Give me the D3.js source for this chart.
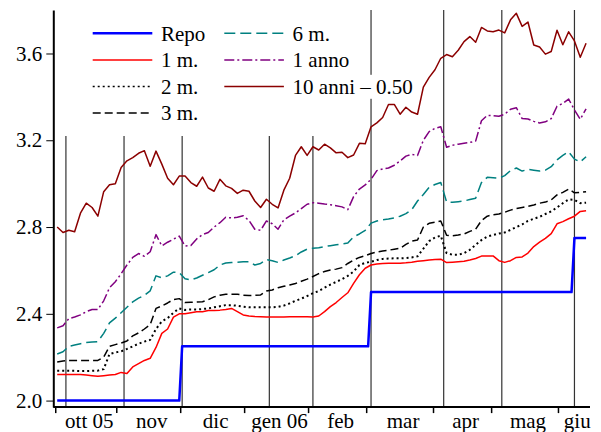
<!DOCTYPE html>
<html>
<head>
<meta charset="utf-8">
<script src="https://cdn.jsdelivr.net/npm/d3@7"></script>
<style>
  body { margin: 0; background: #fff; }
  svg text { font-family: "Liberation Serif", "Times New Roman", serif; font-size: 21px; fill: #000; }
</style>
</head>
<body>
<div id="chart"></div>
<script>
// business days 3 Oct 2005 - 14 Jun 2006, series read every 2nd business day
const firstDay = "2005-10-03";
const lastDay = "2006-06-14";
const monthLabels = ["ott 05", "nov", "dic", "gen 06", "feb", "mar", "apr", "mag", "giu"];
const meetingDates = ["2005-10-06", "2005-11-03", "2005-12-01", "2006-01-12", "2006-02-02",
  "2006-03-02", "2006-04-06", "2006-05-04", "2006-06-08"];
const yTicks = [2.0, 2.4, 2.8, 3.2, 3.6];

const repoDates = ["2005-10-03", "2005-11-30", "2005-12-01", "2006-03-01", "2006-03-02",
  "2006-06-07", "2006-06-08", "2006-06-14"];
const repoValues = [2.00, 2.00, 2.25, 2.25, 2.50, 2.50, 2.75, 2.75];

const oneMonth = [2.12,2.12,2.12,2.12,2.12,2.118,2.115,2.112,2.115,2.118,
  2.12,2.13,2.125,2.155,2.17,2.185,2.195,2.245,2.31,2.33,
  2.385,2.40,2.40,2.405,2.41,2.41,2.415,2.415,2.417,2.42,
  2.425,2.41,2.395,2.39,2.388,2.387,2.385,2.385,2.385,2.385,
  2.386,2.386,2.387,2.387,2.385,2.39,2.41,2.433,2.452,2.475,
  2.497,2.54,2.58,2.61,2.625,2.63,2.632,2.633,2.633,2.633,
  2.635,2.638,2.642,2.645,2.648,2.65,2.652,2.636,2.638,2.64,
  2.642,2.648,2.655,2.666,2.667,2.667,2.645,2.637,2.645,2.66,
  2.662,2.68,2.71,2.73,2.748,2.77,2.815,2.825,2.838,2.85,
  2.872,2.875];
const twoMonths = [2.137,2.137,2.137,2.137,2.136,2.136,2.137,2.138,2.145,2.215,
  2.222,2.227,2.238,2.25,2.262,2.272,2.28,2.33,2.365,2.38,
  2.405,2.425,2.418,2.42,2.42,2.422,2.425,2.43,2.435,2.44,
  2.44,2.437,2.433,2.43,2.43,2.43,2.43,2.43,2.432,2.438,
  2.448,2.46,2.47,2.482,2.495,2.505,2.52,2.535,2.547,2.56,
  2.575,2.595,2.625,2.635,2.64,2.648,2.653,2.655,2.656,2.656,
  2.657,2.66,2.665,2.70,2.735,2.752,2.76,2.68,2.672,2.672,
  2.68,2.695,2.718,2.74,2.756,2.763,2.77,2.775,2.787,2.80,
  2.812,2.828,2.838,2.847,2.86,2.872,2.89,2.91,2.927,2.925,
  2.91,2.912];
const threeMonths = [2.178,2.183,2.185,2.185,2.185,2.185,2.185,2.185,2.20,2.25,
  2.258,2.265,2.275,2.298,2.312,2.33,2.35,2.425,2.436,2.45,
  2.466,2.47,2.452,2.453,2.454,2.456,2.465,2.478,2.486,2.49,
  2.49,2.49,2.486,2.484,2.485,2.487,2.505,2.51,2.52,2.527,
  2.533,2.54,2.55,2.56,2.572,2.585,2.595,2.602,2.606,2.613,
  2.632,2.648,2.66,2.668,2.678,2.685,2.69,2.693,2.698,2.702,
  2.72,2.735,2.74,2.80,2.817,2.822,2.828,2.762,2.76,2.763,
  2.768,2.78,2.79,2.83,2.85,2.857,2.86,2.868,2.878,2.885,
  2.89,2.895,2.902,2.91,2.915,2.925,2.948,2.96,2.975,2.958,
  2.96,2.963];
const sixMonths = [2.215,2.225,2.25,2.256,2.262,2.268,2.27,2.272,2.31,2.358,
  2.38,2.405,2.43,2.455,2.472,2.485,2.506,2.575,2.566,2.575,
  2.592,2.59,2.562,2.556,2.565,2.578,2.59,2.603,2.625,2.634,
  2.636,2.638,2.64,2.64,2.625,2.632,2.65,2.645,2.637,2.648,
  2.657,2.668,2.685,2.698,2.702,2.705,2.71,2.714,2.718,2.722,
  2.726,2.755,2.768,2.785,2.818,2.828,2.833,2.837,2.842,2.85,
  2.862,2.88,2.92,2.95,2.983,2.996,3.005,2.916,2.914,2.917,
  2.92,2.927,2.933,3.005,3.029,3.027,3.025,3.037,3.06,3.072,
  3.058,3.066,3.062,3.058,3.062,3.078,3.11,3.13,3.147,3.113,
  3.10,3.124];
const oneYear = [2.335,2.345,2.378,2.385,2.395,2.41,2.42,2.42,2.46,2.52,
  2.548,2.585,2.625,2.66,2.678,2.665,2.686,2.765,2.713,2.73,
  2.744,2.758,2.712,2.715,2.745,2.765,2.775,2.80,2.82,2.845,
  2.842,2.845,2.852,2.83,2.79,2.785,2.828,2.815,2.79,2.833,
  2.85,2.865,2.885,2.905,2.912,2.91,2.906,2.903,2.898,2.893,
  2.88,2.94,2.975,2.994,3.02,3.06,3.068,3.072,3.085,3.105,
  3.127,3.135,3.13,3.20,3.24,3.255,3.262,3.168,3.177,3.182,
  3.186,3.19,3.196,3.29,3.315,3.313,3.311,3.32,3.343,3.35,
  3.30,3.298,3.287,3.28,3.285,3.30,3.357,3.37,3.39,3.34,
  3.297,3.345];
const tenYearLess050 = [2.80,2.775,2.785,2.778,2.864,2.91,2.89,2.85,2.963,2.995,
  3.0,3.075,3.105,3.12,3.14,3.152,3.08,3.15,3.09,3.025,
  2.995,3.035,3.035,3.005,2.988,3.03,2.98,2.965,3.02,2.99,
  2.978,2.955,2.97,2.965,2.92,2.89,2.928,2.905,2.888,2.97,
  3.025,3.13,3.17,3.13,3.17,3.155,3.182,3.165,3.142,3.145,
  3.12,3.132,3.186,3.184,3.262,3.28,3.305,3.365,3.365,3.32,
  3.352,3.33,3.32,3.445,3.49,3.525,3.578,3.595,3.585,3.615,
  3.655,3.678,3.652,3.72,3.704,3.70,3.708,3.695,3.755,3.785,
  3.725,3.745,3.639,3.63,3.597,3.609,3.707,3.64,3.70,3.658,
  3.583,3.647];

const seriesNames = ["Repo", "1 m.", "2 m.", "3 m.", "6 m.", "1 anno", "10 anni \u2013 0.50"];
const seriesColors = ["#0000ff", "#ff0000", "#000000", "#000000", "#008080", "#800080", "#8b0000"];
const seriesDash = [null, null, "2,3", "8,4", "11,5", "10,3,2,3", null];
const seriesWidth = [2.5, 1.5, 2, 1.5, 1.5, 1.5, 1.5];

const W = 601, H = 432;
const parse = d3.timeParse("%Y-%m-%d");

// weekday calendar, x runs on the business-day index
const days = d3.timeDay.range(parse(firstDay), d3.timeDay.offset(parse(lastDay), 1))
  .filter(d => d.getDay() !== 0 && d.getDay() !== 6);
const dayIndex = new Map(days.map((d, i) => [d3.timeFormat("%Y-%m-%d")(d), i]));
const sampleIdx = d3.range(0, days.length, 2);

const x = d3.scaleLinear().domain([-1.342, 183.35]).range([53.3, 590]);
const y = d3.scaleLinear().domain([1.97, 3.8]).range([407.1, 10.1]);

const svg = d3.select("#chart").append("svg")
  .attr("width", W).attr("height", H);

// meeting lines
svg.append("g").selectAll("line")
  .data(meetingDates)
  .join("line")
  .attr("x1", d => x(dayIndex.get(d))).attr("x2", d => x(dayIndex.get(d)))
  .attr("y1", y(3.8)).attr("y2", y(1.97))
  .attr("stroke", "#333").attr("stroke-width", 1.2);

// legend box hides the lines behind it
svg.append("rect")
  .attr("x", 55).attr("y", 9).attr("width", 310).attr("height", 127)
  .attr("fill", "#fff");

const line = d3.line().x(d => x(d[0])).y(d => y(d[1]));

const repoData = repoDates.map((d, i) => [dayIndex.get(d), repoValues[i]]);
const sampled = [oneMonth, twoMonths, threeMonths, sixMonths, oneYear, tenYearLess050]
  .map(vals => vals.map((v, i) => [sampleIdx[i], v]));
const allSeries = [repoData].concat(sampled);

svg.append("g").selectAll("path")
  .data(allSeries)
  .join("path")
  .attr("fill", "none")
  .attr("stroke", (d, i) => seriesColors[i])
  .attr("stroke-width", (d, i) => seriesWidth[i])
  .attr("stroke-dasharray", (d, i) => seriesDash[i])
  .attr("stroke-linejoin", "round")
  .attr("d", line);

// y axis
const yAxis = svg.append("g")
  .attr("transform", `translate(${x.range()[0]},0)`)
  .call(d3.axisLeft(y).tickValues(yTicks).tickFormat(d3.format(".1f"))
    .tickSize(7).tickSizeOuter(0).tickPadding(4));
yAxis.select(".domain").attr("stroke-width", 2);
yAxis.selectAll("text").attr("font-size", null).attr("font-family", null);

// x axis
const monthStarts = days.map((d, i) => i).filter(i => i === 0 || days[i].getMonth() !== days[i - 1].getMonth());
const tickPos = monthStarts.map(i => x(i - 0.5));
const xg = svg.append("g");
xg.append("line")
  .attr("x1", x.range()[0]).attr("x2", x.range()[1])
  .attr("y1", y(1.97)).attr("y2", y(1.97))
  .attr("stroke", "#000").attr("stroke-width", 2);
xg.selectAll(".tick").data(tickPos).join("line")
  .attr("x1", d => d).attr("x2", d => d)
  .attr("y1", y(1.97)).attr("y2", y(1.97) + 6)
  .attr("stroke", "#000").attr("stroke-width", 1.5);
xg.selectAll("text").data(monthLabels).join("text")
  .attr("x", (d, i) => (tickPos[i] + (i + 1 < tickPos.length ? tickPos[i + 1] : x.range()[1])) / 2 + 3)
  .attr("y", 428)
  .attr("text-anchor", "middle")
  .text(d => d);

// legend
const lg = svg.append("g");
seriesNames.forEach((name, i) => {
  const col = i < 4 ? 0 : 1, row = i < 4 ? i : i - 4;
  const lx = 92.7 + col * 131.6, ly = 33.3 + row * 26.6;
  const t = lg.append("text").attr("x", lx + 68.3).attr("y", ly + 7.3).text(name);
  if (i === 6) {
    const b = t.node().getBBox();
    lg.insert("rect", "text").attr("x", b.x - 2).attr("y", b.y).attr("width", b.width + 4).attr("height", b.height)
      .attr("fill", "#fff");
  }
  lg.append("line")
    .attr("x1", lx).attr("x2", lx + 59.6).attr("y1", ly).attr("y2", ly)
    .attr("stroke", seriesColors[i])
    .attr("stroke-width", i === 0 ? 2.5 : (i === 2 ? 1.5 : 1.5))
    .attr("stroke-dasharray", seriesDash[i]);
});
</script>
</body>
</html>
